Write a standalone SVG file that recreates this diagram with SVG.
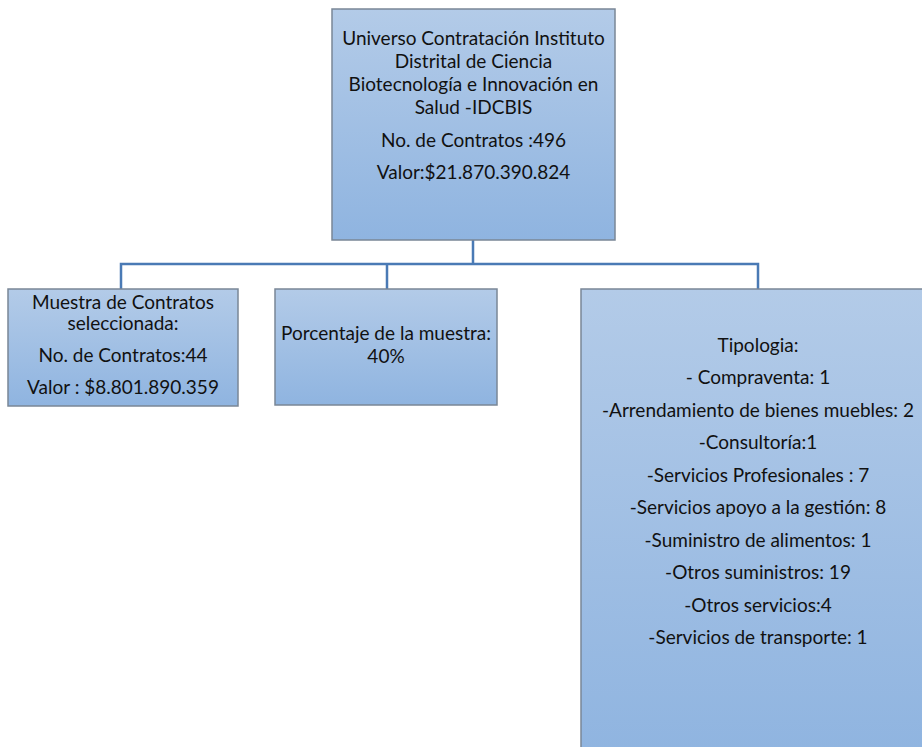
<svg xmlns="http://www.w3.org/2000/svg" width="922" height="747" viewBox="0 0 922 747">
<defs>
<linearGradient id="g" x1="0" y1="0" x2="0" y2="1">
<stop offset="0" stop-color="#b3cbe8"/>
<stop offset="1" stop-color="#8fb4e0"/>
</linearGradient>
<style>
.box{fill:url(#g);stroke:#7a8796;stroke-width:1.5}
.t{font-family:"Lato","Liberation Sans",sans-serif;font-size:19px;fill:#111;text-anchor:middle}
.c{fill:none;stroke:#4a7ab5;stroke-width:2.5}
</style>
</defs>
<rect width="922" height="747" fill="#fff"/>
<g id="connectors">
<path class="c" d="M473 240 V264 M121 289 V264 H758 V289 M387 264 V289"/>
</g>
<g id="top">
<rect class="box" x="332" y="9" width="283" height="231"/>
<text class="t"><tspan x="473.5" y="45">Universo Contratación Instituto</tspan><tspan x="473.5" y="68">Distrital de Ciencia</tspan><tspan x="473.5" y="91">Biotecnología e Innovación en</tspan><tspan x="473.5" y="114">Salud -IDCBIS</tspan><tspan x="473.5" y="147">No. de Contratos :496</tspan><tspan x="473.5" y="179">Valor:$21.870.390.824</tspan></text>
</g>
<g id="muestra">
<rect class="box" x="8" y="289" width="230" height="117"/>
<text class="t"><tspan x="123" y="309">Muestra de Contratos</tspan><tspan x="123" y="330">seleccionada:</tspan><tspan x="123" y="362">No. de Contratos:44</tspan><tspan x="123" y="394">Valor : $8.801.890.359</tspan></text>
</g>
<g id="porcentaje">
<rect class="box" x="275" y="289" width="222" height="116"/>
<text class="t"><tspan x="386" y="340">Porcentaje de la muestra:</tspan><tspan x="386" y="363">40%</tspan></text>
</g>
<g id="tipologia">
<rect class="box" x="581" y="289" width="354" height="470"/>
<text class="t" x="758" y="352">Tipologia:</text>
<text class="t" x="758" y="384">- Compraventa: 1</text>
<text class="t" x="758" y="417">-Arrendamiento de bienes muebles: 2</text>
<text class="t" x="758" y="449">-Consultoría:1</text>
<text class="t" x="758" y="482">-Servicios Profesionales : 7</text>
<text class="t" x="758" y="514">-Servicios apoyo a la gestión: 8</text>
<text class="t" x="758" y="547">-Suministro de alimentos: 1</text>
<text class="t" x="758" y="579">-Otros suministros: 19</text>
<text class="t" x="758" y="612">-Otros servicios:4</text>
<text class="t" x="758" y="644">-Servicios de transporte: 1</text>
</g>
</svg>
